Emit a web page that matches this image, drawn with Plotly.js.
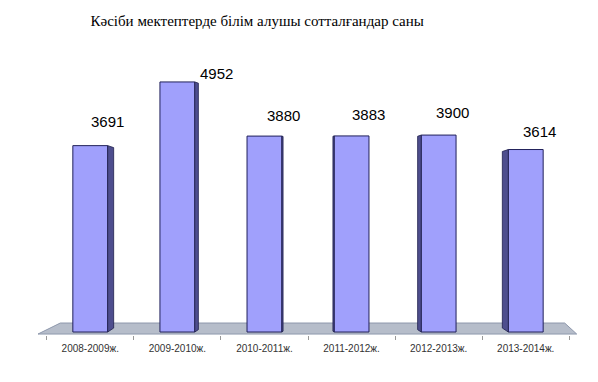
<!DOCTYPE html>
<html>
<head>
<meta charset="utf-8">
<script src="https://cdn.plot.ly/plotly-3.0.1.min.js"></script>
<style>html,body{margin:0;padding:0;background:#fff;}#chart{width:598px;height:382px;}</style>
</head>
<body>
<div id="chart"></div>
<script>
// ---- data ----
const categories = ["2008-2009ж.", "2009-2010ж.", "2010-2011ж.", "2011-2012ж.", "2012-2013ж.", "2013-2014ж."];
const values = [3691, 4952, 3880, 3883, 3900, 3614];
const chartTitle = "Кәсіби мектептерде білім алушы сотталғандар саны";

// ---- style / layout parameters ----
const barWidth = 0.4;
const vanishIdx = 2.5;      // perspective centre (category units)
const depthK = 0.0275;      // side depth per category unit
const unitsPerPx = 1 / 0.0505;
const labelDx = [0, 22, 2, 0, -4, -4];
const labelDy = [24, 8, 21, 21, 23, 18];

const xs = categories.map((c, i) => i);

// side faces (perspective) built from values through data coords
const sx = [], sy = [];
values.forEach((v, i) => {
  const d = (vanishIdx - i) * depthK;
  if (Math.abs(d) < 0.01) return;
  const edge = d > 0 ? i + barWidth / 2 : i - barWidth / 2;
  const dpx = Math.abs(d) * 87.2;
  const topDrop = dpx * 0.33 * unitsPerPx;
  const botRise = dpx * 0.66 * unitsPerPx;
  sx.push(edge, edge, edge + d, edge + d, edge, null);
  sy.push(0, v, v - topDrop, botRise, 0, null);
});

const traces = [
  {
    type: "bar", x: xs, y: values, width: barWidth,
    marker: {color: "#a0a0fc", line: {color: "#20205a", width: 1}},
    hoverinfo: "none"
  },
  {
    type: "scatter", mode: "lines", x: sx, y: sy, fill: "toself",
    fillcolor: "#4e4e8e", line: {color: "#20204e", width: 0.8},
    hoverinfo: "none", showlegend: false
  }
];

const annotations = values.map((v, i) => ({
  x: i + barWidth / 2, y: v, xref: "x", yref: "y",
  text: String(v), showarrow: false,
  xshift: labelDx[i], yshift: labelDy[i],
  font: {family: "Liberation Sans, Arial, sans-serif", size: 15, color: "#000"}
}));

const xr = [-0.6, 5.6];
const layout = {
  width: 598, height: 382,
  margin: {l: 38, r: 20, t: 67, b: 47},
  paper_bgcolor: "#fff", plot_bgcolor: "rgba(0,0,0,0)",
  showlegend: false,
  title: {
    text: chartTitle, x: 0.43, xanchor: "center", xref: "container",
    y: 0.945, yanchor: "middle", yref: "container",
    font: {family: "Liberation Serif, Times New Roman, serif", size: 15, color: "#000"}
  },
  xaxis: {
    range: xr, tickmode: "array", tickvals: xs, ticktext: categories,
    showgrid: false, zeroline: false, showline: false, ticks: "",
    ticklabelstandoff: 6,
    tickfont: {family: "Liberation Sans, Arial, sans-serif", size: 10, color: "#333"},
    minor: {tick0: 0.5, dtick: 1, ticks: "outside", ticklen: 4, tickcolor: "#999", showgrid: false},
    fixedrange: true
  },
  yaxis: {range: [-59, 5248], visible: false, fixedrange: true},
  shapes: [{
    type: "path", xref: "x", yref: "y", layer: "below",
    path: "M -0.6,-40 L 5.585,-40 L 5.447,178 L -0.344,178 Z",
    fillcolor: "#b6bdca", line: {color: "#8e98ac", width: 1}
  }],
  annotations: annotations
};

Plotly.newPlot("chart", traces, layout, {displayModeBar: false, staticPlot: true});
</script>
</body>
</html>
